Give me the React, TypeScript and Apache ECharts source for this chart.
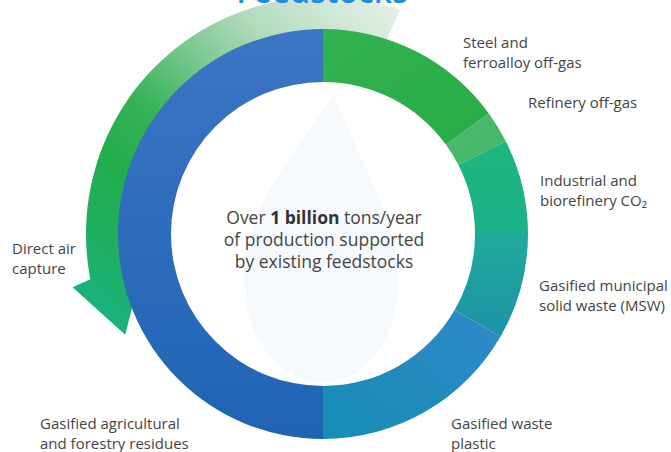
import React, { useEffect, useRef } from "react";
import * as echarts from "echarts";

const W = 671;
const H = 452;

// Feedstock categories (clockwise from 12 o'clock) and their share of the ring (degrees of 360)
const categories = [
  "Steel and\nferroalloy off-gas",
  "Refinery off-gas",
  "Industrial and\nbiorefinery CO₂",
  "Gasified municipal\nsolid waste (MSW)",
  "Gasified waste\nplastic",
  "Gasified agricultural\nand forestry residues",
];
const shares = [54, 9, 27, 30, 60, 180];
const arrowLabel = "Direct air\ncapture";
const title = "Feedstocks";
const centerLines = ["Over {b|1 billion} tons/year", "of production supported", "by existing feedstocks"];

// styles / layout (kept apart from the data)
const FONT = "'Open Sans', 'Noto Sans', sans-serif";
const TEXT = "#454545";
const LABEL_SIZE = 15;
const LABEL_LH = 20;
const cx = 323;
const cy = 234;
const rIn = 152;
const rOut = 205;
const labelPos = [
  [463, 42],
  [528, 102],
  [540, 180],
  [539, 285],
  [451, 423],
  [40, 423],
];
const arrowLabelPos = [12, 248];

const grad = (x0: number, y0: number, x1: number, y1: number, c0: string, c1: string) =>
  new echarts.graphic.LinearGradient(x0, y0, x1, y1, [
    { offset: 0, color: c0 },
    { offset: 1, color: c1 },
  ]);

const sectorColors = [
  grad(0, 0, 1, 1, "#31b24f", "#27ad47"),
  grad(0, 0, 1, 1, "#4bba6c", "#44b668"),
  grad(0, 0, 0, 1, "#1eb67b", "#1ab08a"),
  grad(0, 0, 0, 1, "#21a99c", "#1c93a6"),
  grad(1, 0, 0, 1, "#2f89c8", "#168db5"),
  grad(0, 0, 0, 1, "#3c75c3", "#1e64b3"),
];

const flamePath =
  "M 12 -150 C -15 -100 -80 -40 -78 40 C -76 100 -40 140 0 140 C 42 140 76 100 76 40 C 76 -30 30 -90 12 -150 Z";

function polar(r: number, deg: number): [number, number] {
  const a = (deg * Math.PI) / 180;
  return [cx + r * Math.sin(a), cy - r * Math.cos(a)];
}

function arrowPoints() {
  const pts: [number, number][] = [];
  const tail = 19;
  const headBase = -102;
  for (let d = tail; d >= headBase; d -= 2) pts.push(polar(237, d));
  pts.push(polar(256, headBase));
  pts.push(polar(222, -117));
  pts.push(polar(186, headBase));
  for (let d = headBase; d <= tail; d += 2) pts.push(polar(200, d));
  return pts;
}

export default function App() {
  const ref = useRef<HTMLDivElement>(null);

  useEffect(() => {
    if (!ref.current) return;
    echarts.graphic.registerShape("flame", echarts.graphic.extendPath(flamePath, {}));
    const chart = echarts.init(ref.current, null, { renderer: "svg", width: W, height: H });

    const arrowFill = new echarts.graphic.LinearGradient(
      400,
      0,
      100,
      330,
      [
        { offset: 0, color: "#e6f2e9" },
        { offset: 0.11, color: "#d3e9d9" },
        { offset: 0.26, color: "#b3dbbd" },
        { offset: 0.43, color: "#6fc487" },
        { offset: 0.56, color: "#35b356" },
        { offset: 0.7, color: "#22ad4b" },
        { offset: 0.85, color: "#1fae60" },
        { offset: 1, color: "#18b384" },
      ],
      true
    );

    const mkLabel = (text: string, x: number, y: number) => ({
      type: "text",
      z: 10,
      x,
      y: y - LABEL_LH / 2,
      style: {
        text,
        fill: TEXT,
        font: `${LABEL_SIZE}px ${FONT}`,
        lineHeight: LABEL_LH,
        align: "left",
        verticalAlign: "top",
      },
    });

    chart.setOption({
      animation: false,
      backgroundColor: "#ffffff",
      graphic: [
        {
          type: "flame",
          z: 0,
          x: 322,
          y: 242,
          style: { fill: "#f7fafd" },
          silent: true,
        },
        {
          type: "polygon",
          z: 1,
          shape: { points: arrowPoints() },
          style: { fill: arrowFill },
          silent: true,
        },
        {
          type: "text",
          z: 3,
          x: 322,
          y: -10,
          style: {
            text: title,
            fill: "#1f8ddf",
            font: `600 32px ${FONT}`,
            align: "center",
            verticalAlign: "middle",
          },
        },
        {
          type: "text",
          z: 10,
          x: 324,
          y: 239,
          style: {
            text: centerLines.join("\n"),
            fill: TEXT,
            fontSize: 17.5,
            fontFamily: FONT,
            lineHeight: 22,
            align: "center",
            verticalAlign: "middle",
            rich: {
              b: { fontSize: 17.5, fontFamily: FONT, fontWeight: "bold", fill: "#333333", lineHeight: 22 },
            },
          },
        },
        ...categories.map((name, i) => mkLabel(name, labelPos[i][0], labelPos[i][1])),
        mkLabel(arrowLabel, arrowLabelPos[0], arrowLabelPos[1]),
      ],
      series: [
        {
          type: "pie",
          z: 5,
          silent: true,
          center: [cx, cy],
          radius: [rIn, rOut],
          startAngle: 90,
          clockwise: true,
          label: { show: false },
          labelLine: { show: false },
          emphasis: { disabled: true },
          itemStyle: { borderWidth: 0 },
          data: categories.map((name, i) => ({
            name,
            value: shares[i],
            itemStyle: { color: sectorColors[i] },
          })),
        },
      ],
    });

    return () => chart.dispose();
  }, []);

  return (
    <div
      ref={ref}
      style={{ position: "fixed", left: 0, top: 0, width: W, height: H, background: "#fff" }}
    />
  );
}
